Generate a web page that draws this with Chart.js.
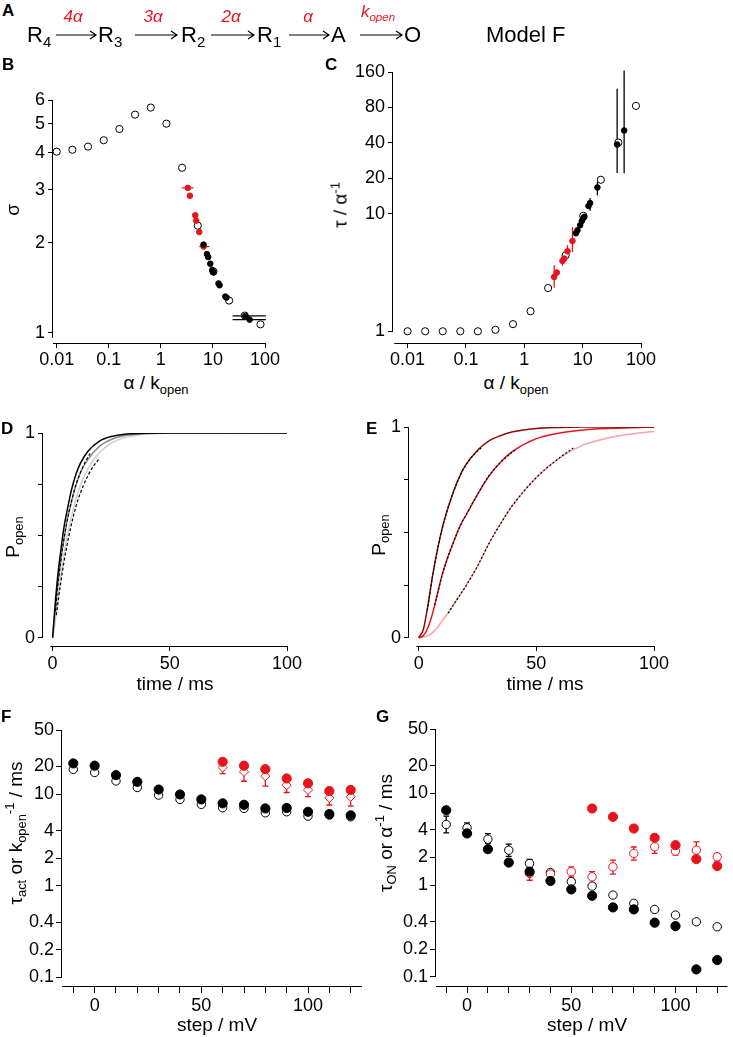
<!DOCTYPE html>
<html>
<head>
<meta charset="utf-8">
<script src="https://cdn.jsdelivr.net/npm/chart.js@4.4.1/dist/chart.umd.min.js"></script>
<style>
  body { margin: 0; background: #fff; font-family: "Liberation Sans", Arial, sans-serif; }
  #page { position: relative; width: 733px; height: 1037px; overflow: hidden; }
  canvas { position: absolute; }
  .t { position: absolute; white-space: nowrap; color: #000; z-index: 2; }
  .lbl { font-weight: bold; font-size: 17px; line-height: 17px; }
  .ttl { font-size: 19px; line-height: 19px; }
  .sch { font-size: 22px; line-height: 22px; }
  .rate { font-size: 17px; line-height: 17px; color: #e8141c; font-style: italic; transform: translateX(-50%); }
  .rot { transform: translate(-50%, -50%) rotate(-90deg); }
  .ctr { transform: translateX(-50%); }
  sub { font-size: 0.68em; vertical-align: -0.35em; line-height: 0; }
  sup { font-size: 0.68em; vertical-align: 0.55em; line-height: 0; }
</style>
</head>
<body>
<div id="page">
  <!-- scheme A -->
  <div class="t lbl" style="left:2px;top:2px">A</div>
  <svg style="position:absolute;left:0;top:0;z-index:2" width="733" height="60">
    <g stroke="#000" stroke-width="1.2" fill="none">
      <path d="M56 35 H96 M90 31 L96 35 L90 39"/>
      <path d="M135 35 H177 M171 31 L177 35 L171 39"/>
      <path d="M211 35 H254 M248 31 L254 35 L248 39"/>
      <path d="M289 35 H329 M323 31 L329 35 L323 39"/>
      <path d="M360 35 H402 M396 31 L402 35 L396 39"/>
    </g>
  </svg>
  <div class="t sch" style="left:27px;top:24px">R<sub>4</sub></div>
  <div class="t sch" style="left:98px;top:24px">R<sub>3</sub></div>
  <div class="t sch" style="left:181px;top:24px">R<sub>2</sub></div>
  <div class="t sch" style="left:257px;top:24px">R<sub>1</sub></div>
  <div class="t sch" style="left:331px;top:24px">A</div>
  <div class="t sch" style="left:404px;top:24px">O</div>
  <div class="t sch" style="left:486px;top:24px">Model F</div>
  <div class="t rate" style="left:73px;top:8px">4α</div>
  <div class="t rate" style="left:153px;top:8px">3α</div>
  <div class="t rate" style="left:231px;top:8px">2α</div>
  <div class="t rate" style="left:308px;top:8px">α</div>
  <div class="t rate" style="left:378px;top:3px">k<sub>open</sub></div>

  <!-- panel letters -->
  <div class="t lbl" style="left:2px;top:56px">B</div>
  <div class="t lbl" style="left:325px;top:56px">C</div>
  <div class="t lbl" style="left:1px;top:420px">D</div>
  <div class="t lbl" style="left:366px;top:420px">E</div>
  <div class="t lbl" style="left:1px;top:708px">F</div>
  <div class="t lbl" style="left:376px;top:708px">G</div>

  <!-- axis titles -->
  <div class="t ttl rot" style="left:12px;top:210px">σ</div>
  <div class="t ttl ctr" style="left:156px;top:373px">α / k<sub>open</sub></div>
  <div class="t ttl rot" style="left:340px;top:205px">τ / α<sup>-1</sup></div>
  <div class="t ttl ctr" style="left:516px;top:373px">α / k<sub>open</sub></div>
  <div class="t ttl rot" style="left:12px;top:537px">P<sub>open</sub></div>
  <div class="t ttl ctr" style="left:175px;top:674px">time / ms</div>
  <div class="t ttl rot" style="left:378px;top:535px">P<sub>open</sub></div>
  <div class="t ttl ctr" style="left:545px;top:674px">time / ms</div>
  <div class="t ttl rot" style="left:15px;top:833px">τ<sub>act</sub> or k<sub>open</sub><sup>-1</sup> / ms</div>
  <div class="t ttl ctr" style="left:217px;top:1015px">step / mV</div>
  <div class="t ttl rot" style="left:385px;top:833px">τ<sub>ON</sub> or α<sup>-1</sup> / ms</div>
  <div class="t ttl ctr" style="left:587px;top:1015px">step / mV</div>
</div>

<script>
// ---- B: sigma vs alpha/k_open ----
const ratioOpen = [0.01, 0.02, 0.04, 0.08, 0.16, 0.32, 0.64, 1.28, 2.56, 5.12, 10.24, 20.48, 40.96, 81.92];
const sigmaOpenB = [4.03, 4.09, 4.19, 4.40, 4.80, 5.36, 5.66, 5.00, 3.56, 2.28, 1.60, 1.28, 1.14, 1.066];
const ratioBlackB = [6.6, 7.67, 8.1, 8.9, 9.7, 10.3, 12.8, 13.4, 17.3, 18.2, 41.8, 50.6];
const sigmaBlackB = [1.97, 1.83, 1.79, 1.70, 1.62, 1.59, 1.46, 1.44, 1.32, 1.31, 1.137, 1.105];
const ratioErrBlackB = [null, null, null, null, null, null, null, null, null, null, [23.8, 104], [23.8, 104]];
const ratioRedB = [3.30, 3.61, 4.57, 4.77, 5.46, 6.6];
const sigmaRedB = [3.05, 2.87, 2.47, 2.37, 2.17, 1.94];
const ratioErrRedB = [[2.53, 4.24], null, null, null, null, [5.46, 8.6]];
const yTicksB = [1, 2, 3, 4, 5, 6];
const xTicksBC = [0.01, 0.1, 1, 10, 100];
const xLabelsBC = ['0.01', '0.1', '1', '10', '100'];

// ---- C: tau / alpha^-1 vs alpha/k_open ----
const tauOpenC = [1, 1, 1, 1, 1, 1.03, 1.15, 1.48, 2.33, 4.43, 9.6, 19.4, 40.2, 82.4];
const ratioBlackC = [7.66, 8.15, 9.06, 9.68, 10.3, 10.7, 12.6, 13.4, 17.9, 39, 51.4];
const tauBlackC = [6.81, 7.22, 7.97, 8.67, 9.19, 9.4, 11.6, 12.3, 16.7, 38.7, 50.9];
const tauErrBlackC = [null, null, null, null, null, null, null, [10.6, 13.6], [14.3, 18.6], [22.2, 115], [22, 165]];
const ratioRedC = [3.25, 3.61, 4.51, 4.83, 5.5, 6.69];
const tauRedC = [2.9, 3.16, 3.96, 4.15, 4.79, 5.86];
const tauErrRedC = [[2.35, 3.64], null, [3.6, 4.5], null, [4.3, 5.4], [4.73, 7.7]];
const yTicksC = [1, 10, 20, 40, 80, 160];

// ---- D: P_open vs time ----
const timeD = [0, 1, 2, 3, 4, 5, 6, 8, 10, 12, 15, 20, 25, 30, 40, 50, 100];
const pBlackD = [0, 0.15, 0.28, 0.38, 0.47, 0.55, 0.61, 0.72, 0.80, 0.855, 0.91, 0.96, 0.983, 0.993, 0.999, 1, 1];
const pGrayD = [0, 0.12, 0.24, 0.33, 0.42, 0.49, 0.56, 0.66, 0.745, 0.81, 0.87, 0.935, 0.968, 0.985, 0.997, 1, 1];
const pLightD = [0, 0.07, 0.17, 0.26, 0.34, 0.42, 0.48, 0.59, 0.68, 0.75, 0.825, 0.905, 0.95, 0.975, 0.994, 0.999, 1];
const timeFit1D = [1.2, 2, 3, 4, 6, 8, 10, 12, 14, 16];
const pFit1D = [0.13, 0.23, 0.33, 0.42, 0.56, 0.665, 0.75, 0.81, 0.86, 0.9];
const timeFit2D = [1.6, 2.5, 3.5, 5, 7, 9, 11, 13, 15, 17.5, 19.6];
const pFit2D = [0.11, 0.19, 0.27, 0.38, 0.5, 0.6, 0.68, 0.74, 0.79, 0.84, 0.87];

// ---- E: P_open vs time ----
const timeE = [0, 2, 4, 6, 8, 10, 12, 15, 18, 20, 25, 30, 35, 40, 50, 60, 70, 80, 90, 100];
const pDarkE = [0, 0.04, 0.16, 0.3, 0.42, 0.52, 0.6, 0.7, 0.78, 0.82, 0.89, 0.935, 0.96, 0.977, 0.993, 0.998, 1, 1, 1, 1];
const pRedE = [0, 0.01, 0.05, 0.12, 0.21, 0.3, 0.37, 0.46, 0.54, 0.58, 0.68, 0.77, 0.835, 0.885, 0.945, 0.972, 0.986, 0.993, 0.997, 0.999];
const pPinkE = [0, 0.003, 0.01, 0.025, 0.05, 0.08, 0.11, 0.16, 0.21, 0.245, 0.34, 0.45, 0.545, 0.63, 0.76, 0.855, 0.915, 0.947, 0.966, 0.979];
const timeFit1E = [3.7, 5, 6, 8, 10, 12, 15, 18, 21, 24, 27.1];
const pFit1E = [0.13, 0.23, 0.3, 0.42, 0.52, 0.6, 0.7, 0.78, 0.835, 0.875, 0.905];
const timeFit2E = [6.8, 8, 10, 12, 15, 18, 20, 25, 30, 35, 40.9];
const pFit2E = [0.155, 0.21, 0.3, 0.37, 0.46, 0.54, 0.58, 0.68, 0.77, 0.835, 0.89];
const timeFit3E = [12.5, 15, 18, 20, 25, 30, 35, 40, 50, 60, 65.7];
const pFit3E = [0.116, 0.16, 0.21, 0.245, 0.34, 0.45, 0.545, 0.63, 0.76, 0.855, 0.9];
const yTicksDE = [0, 0.25, 0.5, 0.75, 1];
const yLabelsDE = ['0', '', '', '', '1'];
const xTicksDE = [0, 50, 100];

// ---- F / G: time constants vs step ----
const stepAll = [-10, 0, 10, 20, 30, 40, 50, 60, 70, 80, 90, 100, 110, 120];
const tauActF = [21.6, 20.4, 16.1, 13.6, 11.2, 9.9, 8.75, 7.92, 7.64, 6.98, 7.05, 6.41, 6.05, 5.86];
const kOpenInvF = [18.6, 17.2, 13.9, 11.8, 9.75, 8.75, 7.72, 7.1, 6.98, 6.25, 6.41, 5.75, 5.9, 5.65];
const stepRedF = [60, 70, 80, 90, 100, 110, 120];
const tauActRedF = [22.5, 20.4, 18.7, 14.8, 13.1, 10.8, 11.1];
const kOpenInvRedF = [19.5, 17.5, 15.7, 12.5, 11.1, 9.1, 9.35];
const kOpenInvRedErrF = [[16.7, 22.6], [13.8, 20.7], [12.2, 19.0], [10.4, 14.8], [9.4, 13.1], [7.6, 10.6], [7.4, 11.0]];

const tauOnG = [6.53, 3.65, 2.46, 1.76, 1.40, 1.11, 0.898, 0.765, 0.572, 0.544, 0.39, 0.358, 0.121, 0.153];
const alphaInvG = [4.57, 4.2, 3.16, 2.4, 1.72, 1.37, 1.09, 0.975, 0.779, 0.633, 0.544, 0.472, 0.399, 0.352];
const alphaInvErrG = [[3.7, 5.63], [3.75, 4.75], [2.84, 3.64], [2.05, 2.79], [1.55, 1.9], null, null, null, null, null, null, null, null, null];
const stepRedG = [60, 70, 80, 90, 100, 110, 120];
const tauOnRedG = [6.82, 5.53, 4.13, 3.27, 2.72, 1.92, 1.61];
const stepRedOpenG = [30, 40, 50, 60, 70, 80, 90, 100, 110, 120];
const alphaInvRedG = [1.34, 1.32, 1.40, 1.23, 1.58, 2.21, 2.61, 2.34, 2.40, 2.03];
const alphaInvRedErrG = [[1.13, 1.58], null, [1.23, 1.58], [1.04, 1.40], [1.32, 1.87], [1.87, 2.6], [2.21, 3.09], [2.12, 2.65], [2.03, 2.96], [1.84, 2.21]];

const yTicksFG = [0.1, 0.2, 0.4, 1, 2, 4, 10, 20, 50];
const xTicksFG = [-10, 0, 10, 20, 30, 40, 50, 60, 70, 80, 90, 100, 110, 120];
const xLabelsFG = ['', '0', '', '', '', '', '50', '', '', '', '', '100', '', ''];

const RED = '#e8141c';
Chart.defaults.font.family = '"Liberation Sans", Arial, sans-serif';
Chart.defaults.color = '#000';

const pts = (xs, ys) => xs.map((x, i) => ({ x, y: ys[i] }));

// draws error bars from errX / errY arrays through the chart scales
const errorBars = {
    id: 'errorBars',
    beforeDatasetsDraw(chart) {
        const ctx = chart.ctx, xs = chart.scales.x, ys = chart.scales.y;
        ctx.save();
        chart.data.datasets.forEach(ds => {
            if (!ds.errX && !ds.errY) return;
            ctx.strokeStyle = ds.errColor || '#000';
            ctx.lineWidth = ds.errWidth || 1;
            ds.data.forEach((p, j) => {
                const px = xs.getPixelForValue(p.x), py = ys.getPixelForValue(p.y);
                ctx.beginPath();
                const ey = ds.errY ? ds.errY[j] : null;
                if (ey) {
                    const a = ys.getPixelForValue(ey[0]), b = ys.getPixelForValue(ey[1]);
                    ctx.moveTo(px, a); ctx.lineTo(px, b);
                    if (ds.cap) {
                        ctx.moveTo(px - ds.cap, a); ctx.lineTo(px + ds.cap, a);
                        ctx.moveTo(px - ds.cap, b); ctx.lineTo(px + ds.cap, b);
                    }
                }
                const ex = ds.errX ? ds.errX[j] : null;
                if (ex) {
                    ctx.moveTo(xs.getPixelForValue(ex[0]), py);
                    ctx.lineTo(xs.getPixelForValue(ex[1]), py);
                }
                ctx.stroke();
            });
        });
        ctx.restore();
    }
};

// Igor-style detached axis lines: each axis only spans the given value range
const axisLines = {
    id: 'axisLines',
    afterDraw(chart, args, opts) {
        const { ctx, chartArea: a } = chart, xs = chart.scales.x, ys = chart.scales.y;
        ctx.save();
        ctx.strokeStyle = '#000';
        ctx.lineWidth = 1;
        ctx.beginPath();
        const yb = Math.round(a.bottom) + 0.5, xl = Math.round(a.left) - 0.5;
        ctx.moveTo(xs.getPixelForValue(opts.x[0]), yb);
        ctx.lineTo(xs.getPixelForValue(opts.x[1]), yb);
        ctx.moveTo(xl, ys.getPixelForValue(opts.y[0]));
        ctx.lineTo(xl, ys.getPixelForValue(opts.y[1]));
        ctx.stroke();
        ctx.restore();
    }
};

function axis(type, min, max, tickVals, tickLabels, tickLen, pad) {
    return {
        type, min, max, bounds: 'data',
        grid: { display: true, drawOnChartArea: false, drawTicks: true, tickLength: tickLen, color: '#000', lineWidth: 1 },
        border: { display: false },
        ticks: { color: '#000', font: { size: 18 }, padding: pad, autoSkip: false, maxRotation: 0, minRotation: 0,
                 callback: (v, i) => tickLabels[i] },
        afterBuildTicks: s => { s.ticks = tickVals.map(v => ({ value: v })); }
    };
}

function marks(xs, ys, fill, stroke, r, extra) {
    return Object.assign({
        data: pts(xs, ys), showLine: false, pointStyle: 'circle', pointRadius: r, pointHoverRadius: r,
        backgroundColor: fill, borderColor: stroke, pointBackgroundColor: fill, pointBorderColor: stroke,
        pointBorderWidth: 1
    }, extra || {});
}

function curve(xs, ys, color, width, dash) {
    return {
        data: pts(xs, ys), showLine: true, pointRadius: 0, pointHoverRadius: 0,
        borderColor: color, backgroundColor: color, borderWidth: width, borderDash: dash || [],
        cubicInterpolationMode: 'monotone', fill: false
    };
}

function panel(box, area, spans, datasets, xScale, yScale) {
    const cv = document.createElement('canvas');
    cv.width = box.w; cv.height = box.h;
    cv.style.left = box.l + 'px'; cv.style.top = box.t + 'px';
    document.getElementById('page').appendChild(cv);
    xScale.afterFit = s => { s.height = box.t + box.h - area.b; };
    yScale.afterFit = s => { s.width = area.l - box.l; };
    return new Chart(cv, {
        type: 'scatter',
        data: { datasets },
        options: {
            responsive: false, animation: false, devicePixelRatio: 1,
            layout: { padding: { left: 0, bottom: 0, top: area.t - box.t, right: box.l + box.w - area.r } },
            plugins: { legend: { display: false }, tooltip: { enabled: false }, axisLines: spans },
            scales: { x: xScale, y: yScale }
        },
        plugins: [errorBars, axisLines]
    });
}

// B
panel({ l: 0, t: 80, w: 300, h: 290 }, { l: 53, t: 100, r: 265, b: 343 },
    { x: [0.00849, 100], y: [0.96, 6] }, [
    marks(ratioBlackB, sigmaBlackB, '#000', '#000', 2.8, { errX: ratioErrBlackB, errColor: '#000', errWidth: 1.2 }),
    marks(ratioRedB, sigmaRedB, RED, RED, 2.8, { errX: ratioErrRedB, errColor: RED, errWidth: 1.2 }),
    marks(ratioOpen, sigmaOpenB, '#fff', '#000', 3.6)
], axis('logarithmic', 0.00849, 100, xTicksBC, xLabelsBC, 5, 1),
   axis('logarithmic', 0.923, 6, yTicksB, yTicksB.map(String), 5, 3));

// C
panel({ l: 345, t: 55, w: 360, h: 315 }, { l: 393, t: 72, r: 641, b: 343 },
    { x: [0.0059, 100], y: [1, 160] }, [
    marks(ratioBlackC, tauBlackC, '#000', '#000', 2.8, { errY: tauErrBlackC, errColor: '#000', errWidth: 1.3 }),
    marks(ratioRedC, tauRedC, RED, RED, 2.8, { errY: tauErrRedC, errColor: RED, errWidth: 1.3 }),
    marks(ratioOpen, tauOpenC, '#fff', '#000', 3.6)
], axis('logarithmic', 0.00562, 100, xTicksBC, xLabelsBC, 5, 1),
   axis('logarithmic', 0.795, 160, yTicksC, yTicksC.map(String), 5, 3));

// D
panel({ l: 0, t: 415, w: 310, h: 260 }, { l: 43, t: 433, r: 287, b: 646 },
    { x: [-1, 100], y: [0, 1] }, [
    curve(timeFit1D, pFit1D, '#000', 1.2, [3, 2]),
    curve(timeFit2D, pFit2D, '#000', 1.2, [3, 2]),
    curve(timeD, pBlackD, '#000', 1.5),
    curve(timeD, pGrayD, '#8a8a8a', 1.5),
    curve(timeD, pLightD, '#cfcfcf', 1.5)
], axis('linear', -4.1, 100, xTicksDE, xTicksDE.map(String), 5, 2),
   axis('linear', -0.0405, 1, yTicksDE, yLabelsDE, 5, 3));

// E
panel({ l: 370, t: 410, w: 360, h: 265 }, { l: 409, t: 427, r: 654, b: 646 },
    { x: [-1, 100], y: [0, 1] }, [
    curve(timeFit1E, pFit1E, '#000', 1.2, [2, 2]),
    curve(timeFit2E, pFit2E, '#000', 1.2, [2, 2]),
    curve(timeFit3E, pFit3E, '#000', 1.2, [2, 2]),
    curve(timeE, pDarkE, '#8c0a0a', 1.5),
    curve(timeE, pRedE, '#e3161b', 1.5),
    curve(timeE, pPinkE, '#f5a3a3', 1.5)
], axis('linear', -4.13, 100, xTicksDE, xTicksDE.map(String), 5, 2),
   axis('linear', -0.0394, 1, yTicksDE, yLabelsDE, 5, 3));

// F
panel({ l: 0, t: 712, w: 370, h: 305 }, { l: 62, t: 730, r: 362, b: 986 },
    { x: [-15.3, 125.3], y: [0.1, 50] }, [
    marks(stepRedF, tauActRedF, RED, RED, 4.6),
    marks(stepRedF, kOpenInvRedF, '#fff', RED, 4.6, { pointStyle: 'rectRot', errY: kOpenInvRedErrF, errColor: RED, errWidth: 1.3, cap: 3 }),
    marks(stepAll, tauActF, '#000', '#000', 4.6),
    marks(stepAll, kOpenInvF, '#fff', '#000', 4.2)
], axis('linear', -15.3, 125.3, xTicksFG, xLabelsFG, 7, 2),
   axis('logarithmic', 0.0806, 50, yTicksFG, yTicksFG.map(String), 6, 2));

// G
panel({ l: 380, t: 712, w: 353, h: 305 }, { l: 436, t: 729, r: 732, b: 986 },
    { x: [-14.9, 124.9], y: [0.1, 50] }, [
    marks(stepRedG, tauOnRedG, RED, RED, 4.6),
    marks(stepAll, tauOnG, '#000', '#000', 4.6),
    marks(stepRedOpenG, alphaInvRedG, '#fff', RED, 4.2, { errY: alphaInvRedErrG, errColor: RED, errWidth: 1.3, cap: 3 }),
    marks(stepAll, alphaInvG, '#fff', '#000', 4.2, { errY: alphaInvErrG, errColor: '#000', errWidth: 1.3, cap: 3 })
], axis('linear', -14.9, 124.9, xTicksFG, xLabelsFG, 7, 2),
   axis('logarithmic', 0.0798, 50, yTicksFG, yTicksFG.map(String), 6, 2));
</script>
</body>
</html>
